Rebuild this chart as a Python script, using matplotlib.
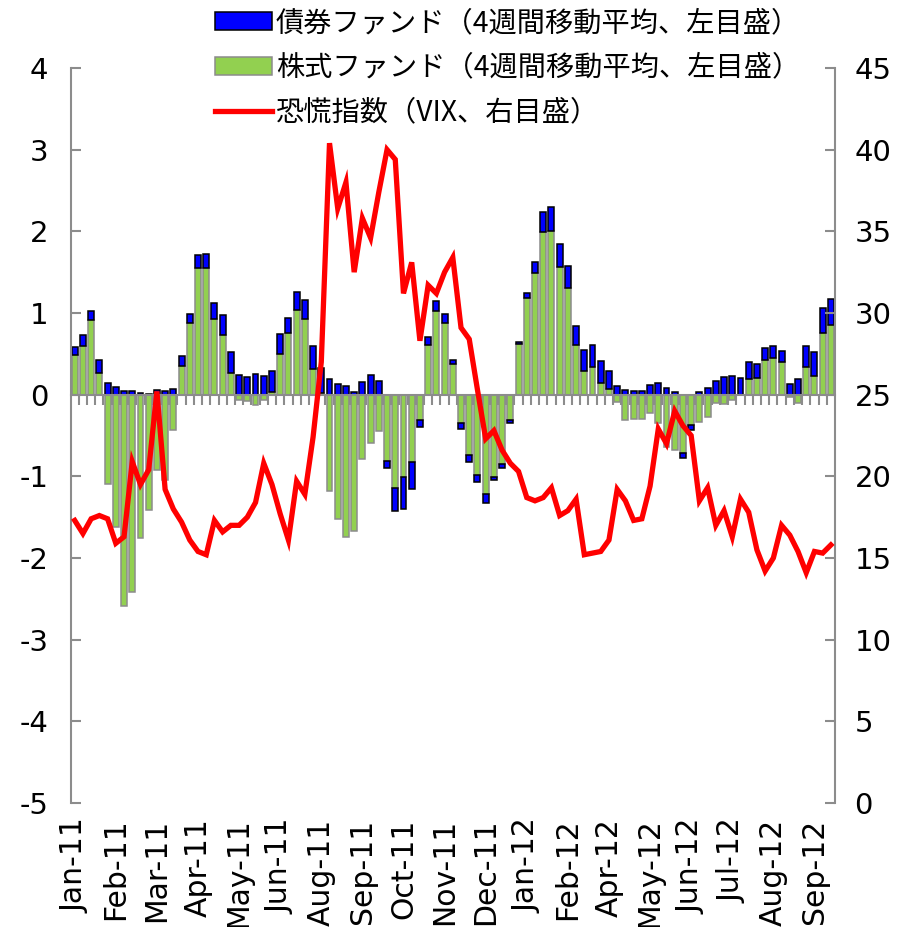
import numpy as np
import matplotlib
matplotlib.use("Agg")
import matplotlib.pyplot as plt
from matplotlib.font_manager import FontProperties
from matplotlib.lines import Line2D

# ---- data (weekly, Jan-2011 .. Sep-2012) ----
equity = [0.49, 0.60, 0.91, 0.27, -1.09, -1.62, -2.59, -2.42, -1.75, -1.41,
          -0.92, -1.04, -0.43, 0.35, 0.88, 1.55, 1.55, 0.93, 0.73, 0.27,
          -0.07, -0.08, -0.13, -0.07, 0.03, 0.50, 0.75, 1.04, 0.93, 0.31,
          0.02, -1.18, -1.52, -1.74, -1.67, -0.79, -0.59, -0.45, -0.81, -1.14,
          -1.01, -0.82, -0.31, 0.61, 1.02, 0.88, 0.37, -0.35, -0.74, -0.98,
          -1.22, -1.01, -0.85, -0.31, 0.62, 1.18, 1.49, 1.99, 2.01, 1.56,
          1.31, 0.61, 0.29, 0.34, 0.14, 0.07, -0.09, -0.31, -0.30, -0.30,
          -0.23, -0.35, -0.64, -0.68, -0.71, -0.37, -0.34, -0.27, -0.10, -0.11,
          -0.07, 0.00, 0.19, 0.21, 0.42, 0.45, 0.40, -0.03, -0.10, 0.34,
          0.23, 0.75, 0.85]
bond = [0.09, 0.13, 0.12, 0.15, 0.14, 0.09, 0.05, 0.04, 0.02, 0.01,
        0.06, 0.05, 0.07, 0.12, 0.11, 0.16, 0.17, 0.19, 0.25, 0.25,
        0.24, 0.22, 0.25, 0.23, 0.26, 0.24, 0.19, 0.22, 0.23, 0.28,
        0.31, 0.19, 0.13, 0.10, 0.03, 0.16, 0.24, 0.17, -0.09, -0.29,
        -0.39, -0.34, -0.08, 0.10, 0.13, 0.11, 0.06, -0.07, -0.08, -0.09,
        -0.11, -0.04, -0.05, -0.04, 0.02, 0.06, 0.13, 0.25, 0.29, 0.28,
        0.26, 0.23, 0.26, 0.27, 0.27, 0.22, 0.11, 0.06, 0.04, 0.05,
        0.12, 0.14, 0.08, 0.03, -0.07, -0.06, 0.03, 0.08, 0.17, 0.22,
        0.23, 0.20, 0.21, 0.17, 0.15, 0.15, 0.13, 0.13, 0.19, 0.25,
        0.29, 0.31, 0.32]
vix = [17.3, 16.5, 17.4, 17.6, 17.4, 15.9, 16.3, 20.9, 19.5, 20.4,
       25.2, 19.2, 18.0, 17.2, 16.1, 15.4, 15.2, 17.3, 16.6, 17.0,
       17.0, 17.5, 18.4, 20.8, 19.5, 17.7, 16.1, 19.7, 18.9, 22.4,
       27.0, 40.4, 36.4, 38.0, 32.5, 35.8, 34.6, 37.4, 40.0, 39.4,
       31.2, 33.1, 28.3, 31.7, 31.2, 32.5, 33.4, 29.1, 28.4, 25.3,
       22.3, 22.8, 21.6, 20.8, 20.3, 18.7, 18.5, 18.7, 19.3, 17.6,
       17.9, 18.6, 15.2, 15.3, 15.4, 16.1, 19.2, 18.5, 17.3, 17.4,
       19.4, 22.9, 22.0, 24.0, 23.1, 22.5, 18.5, 19.3, 17.0, 17.9,
       16.3, 18.6, 17.8, 15.5, 14.2, 15.0, 17.0, 16.4, 15.4, 14.1,
       15.4, 15.3, 15.8]
month_labels = ["Jan-11", "Feb-11", "Mar-11", "Apr-11", "May-11", "Jun-11",
                "Aug-11", "Sep-11", "Oct-11", "Nov-11", "Dec-11", "Jan-12",
                "Feb-12", "Apr-12", "May-12", "Jun-12", "Jul-12", "Aug-12",
                "Sep-12"]
label_every = 5
legend_labels = ["債券ファンド（4週間移動平均、左目盛）",
                 "株式ファンド（4週間移動平均、左目盛）",
                 "恐慌指数（VIX、右目盛）"]

# ---- derived ----
n = len(equity)
x = np.arange(n)
eq = np.array(equity)
bd = np.array(bond)
same_sign = (np.sign(bd) == np.sign(eq)) | ((eq == 0) & (bd > 0))
bd_bottom = np.where(same_sign, eq, 0.0)

plt.rcParams['font.family'] = ['DejaVu Sans']
plt.rcParams['axes.unicode_minus'] = False
fig = plt.figure(figsize=(9.03, 9.27), dpi=100)
ax = fig.add_axes([70.6 / 903, 1 - 803 / 927, (835 - 70.6) / 903, (803 - 68) / 927])
ax2 = ax.twinx()

GRAY = "#8c8c8c"
w = 0.72
bg = ax.bar(x, eq, width=w, color="#92D050", edgecolor=GRAY, linewidth=1.1, zorder=1)
bb = ax.bar(x, bd, width=w, bottom=bd_bottom, color="#0000FF", edgecolor="black",
            linewidth=1.1, zorder=1.5)
ln, = ax2.plot(x, vix, color="#FF0000", linewidth=3.8, solid_joinstyle='miter',
               zorder=3)

ax.set_xlim(-0.5, n - 0.5)
ax.set_ylim(-5, 4)
ax2.set_ylim(0, 45)
ax.set_yticks(np.arange(-5, 5, 1))
ax2.set_yticks(np.arange(0, 50, 5))

for s in ["top", "right"]:
    ax.spines[s].set_visible(False)
for s in ["top", "bottom", "left"]:
    ax2.spines[s].set_visible(False)
ax.spines["left"].set_color(GRAY)
ax.spines["left"].set_linewidth(1.5)
ax2.spines["right"].set_color(GRAY)
ax2.spines["right"].set_linewidth(1.5)
ax.spines["bottom"].set_position(("data", 0))
ax.spines["bottom"].set_color(GRAY)
ax.spines["bottom"].set_linewidth(1.5)
ax.spines["bottom"].set_zorder(2)

ax.set_xticks([])
ax.set_xticks(np.arange(1, n) - 0.5, minor=True)
ax.tick_params(axis="x", which="minor", direction="out", length=7.5, width=1.5,
               color=GRAY)
ax.tick_params(axis="y", direction="in", length=7.5, width=1.5, color=GRAY,
               labelsize=21, pad=16)
ax2.tick_params(axis="y", direction="in", length=7.5, width=1.5, color=GRAY,
                labelsize=21, pad=14)

sec = ax.secondary_xaxis("bottom")
sec.set_xticks(x[::label_every][:len(month_labels)], month_labels, rotation=90)
sec.spines["bottom"].set_visible(False)
sec.tick_params(length=0, labelsize=21.5, pad=11)

fp = FontProperties(family=["Noto Sans CJK JP", "DejaVu Sans"], size=20.3)
h_line = Line2D([0], [0], color="#FF0000", linewidth=3.8)
fig.legend([bb, bg, h_line], legend_labels, loc="upper left",
           bbox_to_anchor=(214 / 903, 0.993), frameon=False, prop=fp,
           handlelength=2.0, handleheight=0.6, handletextpad=0.15,
           labelspacing=0.52, borderaxespad=0.0, borderpad=0.05)

fig.savefig("out.png", dpi=100)
